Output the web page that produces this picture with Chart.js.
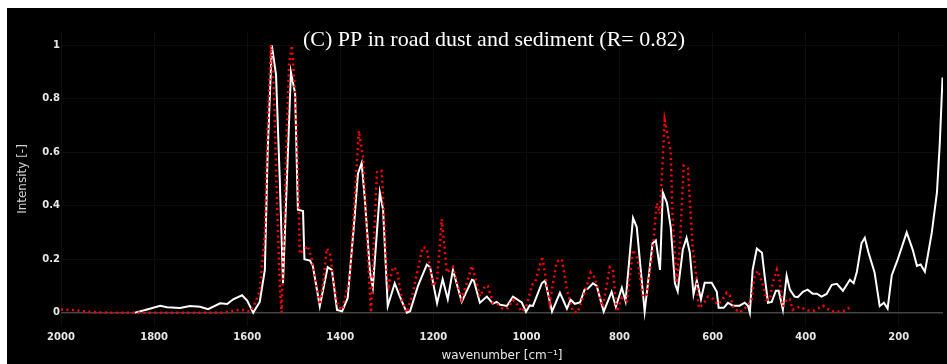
<!DOCTYPE html>
<html>
<head>
<meta charset="utf-8">
<script src="https://cdn.jsdelivr.net/npm/chart.js@4"></script>
<style>
  html, body { margin: 0; padding: 0; background: #fff; }
  #wrap { position: absolute; left: 7px; top: 8px; width: 940px; height: 356px; background: #000; }
</style>
</head>
<body>
<div id="wrap"><canvas id="spectra"></canvas></div>
<script>
// sample spectrum (white, solid)
const sampleX = [1841, 1815, 1787, 1772, 1744, 1723, 1701, 1684, 1658, 1643, 1630, 1611, 1600, 1587, 1573, 1562, 1556, 1547, 1538, 1530,
  1523, 1506, 1497, 1491, 1480, 1477, 1465, 1459, 1444, 1427, 1418, 1407, 1396, 1384, 1369, 1362, 1354, 1347, 1336, 1330,
  1315, 1308, 1298, 1283, 1272, 1257, 1250, 1233, 1214, 1207, 1192, 1180, 1169, 1158, 1139, 1117, 1113, 1100, 1085, 1072,
  1064, 1057, 1042, 1029, 1010, 1001, 993, 986, 967, 960, 945, 928, 913, 905, 896, 885, 875, 868, 857, 849,
  834, 817, 808, 795, 787, 771, 763, 746, 729, 722, 713, 707, 698, 690, 681, 675, 664, 656, 649, 641,
  634, 625, 617, 602, 591, 587, 576, 567, 557, 542, 531, 524, 520, 514, 505, 494, 488, 481, 473, 464,
  458, 449, 441, 434, 424, 417, 406, 396, 385, 376, 366, 355, 344, 333, 320, 305, 297, 290, 280, 273,
  265, 252, 241, 232, 224, 215, 202, 183, 170, 161, 153, 144, 138, 129, 118, 112, 106];
const sampleY = [0, 0.012, 0.026, 0.02, 0.017, 0.025, 0.022, 0.013, 0.035, 0.032, 0.05, 0.065, 0.045, 0, 0.04, 0.16, 0.6, 1.0, 0.89, 0.5,
  0.11, 0.9, 0.82, 0.385, 0.38, 0.2, 0.195, 0.175, 0.024, 0.17, 0.16, 0.01, 0.005, 0.055, 0.36, 0.52, 0.56, 0.42, 0.15, 0.095,
  0.45, 0.385, 0.024, 0.11, 0.06, 0, 0.005, 0.1, 0.18, 0.17, 0.035, 0.125, 0.05, 0.16, 0.04, 0.123, 0.12, 0.037, 0.06, 0.034,
  0.04, 0.03, 0.025, 0.06, 0.038, 0.003, 0.027, 0.025, 0.11, 0.12, 0.004, 0.074, 0.015, 0.048, 0.033, 0.038, 0.086, 0.09, 0.11, 0.1,
  0.004, 0.078, 0.022, 0.093, 0.043, 0.354, 0.32, 0.004, 0.26, 0.27, 0.16, 0.45, 0.41, 0.32, 0.11, 0.08, 0.235, 0.28, 0.225, 0.067,
  0.12, 0.05, 0.112, 0.112, 0.078, 0.018, 0.018, 0.037, 0.026, 0.026, 0.037, 0.026, 0, 0.16, 0.24, 0.224, 0.135, 0.037, 0.04, 0.082,
  0.082, 0.011, 0.138, 0.086, 0.06, 0.058, 0.078, 0.086, 0.071, 0.071, 0.06, 0.07, 0.104, 0.108, 0.082, 0.123, 0.11, 0.153, 0.26, 0.28,
  0.224, 0.15, 0.024, 0.037, 0.015, 0.14, 0.2, 0.3, 0.235, 0.175, 0.18, 0.153, 0.21, 0.3, 0.45, 0.63, 0.88];

// reference spectrum (red, dotted)
const refX = [2000, 1975, 1950, 1925, 1900, 1650, 1635, 1620, 1605, 1595, 1587, 1573, 1562, 1555, 1549, 1543, 1536, 1530, 1526, 1515,
  1510, 1504, 1497, 1491, 1487, 1478, 1470, 1461, 1448, 1444, 1436, 1429, 1422, 1413, 1405, 1396, 1379, 1369, 1360, 1351,
  1343, 1334, 1327, 1321, 1311, 1300, 1296, 1287, 1278, 1268, 1257, 1244, 1223, 1214, 1201, 1192, 1182, 1171, 1158, 1139,
  1117, 1107, 1100, 1089, 1083, 1072, 1061, 1051, 1040, 1029, 1018, 1010, 999, 988, 982, 967, 965, 950, 935, 924,
  913, 900, 890, 875, 862, 853, 836, 821, 814, 806, 795, 784, 771, 761, 750, 741, 730, 720, 713, 703,
  690, 686, 677, 670, 662, 653, 643, 634, 630, 621, 610, 600, 589, 580, 570, 563, 555, 542, 527, 516,
  510, 503, 494, 484, 477, 471, 462, 456, 449, 441, 434, 428, 413, 396, 381, 363, 344, 323, 312, 301];
const refY = [0.012, 0.01, 0.005, 0.001, 0, 0, 0.004, 0.01, 0.01, 0.003, 0.02, 0.08, 0.3, 0.75, 1.0, 0.85, 0.42, 0.1, 0, 0.67,
  0.93, 1.0, 0.82, 0.55, 0.22, 0.235, 0.25, 0.2, 0.07, 0.03, 0.12, 0.24, 0.22, 0.1, 0.024, 0.01, 0.135, 0.43, 0.68, 0.58,
  0.3, 0, 0.3, 0.53, 0.53, 0.15, 0.1, 0.17, 0.16, 0.05, 0, 0.074, 0.245, 0.24, 0.1, 0.12, 0.35, 0.15, 0.17, 0.05,
  0.175, 0.11, 0.06, 0.1, 0.1, 0.037, 0.03, 0.015, 0.017, 0.048, 0.027, 0.004, 0.03, 0.104, 0.11, 0.2, 0.2, 0.037, 0.19, 0.2,
  0.086, 0.004, 0, 0.074, 0.15, 0.13, 0.022, 0.17, 0.16, 0.004, 0.056, 0.045, 0.235, 0.2, 0.06, 0.07, 0.21, 0.41, 0.37, 0.72,
  0.6, 0.36, 0.11, 0.26, 0.55, 0.54, 0.245, 0.12, 0.018, 0.03, 0.06, 0.052, 0.03, 0.045, 0.074, 0.065, 0.018, 0, 0.022, 0.05,
  0.135, 0.157, 0.115, 0.048, 0.05, 0.11, 0.16, 0.12, 0.022, 0.05, 0.05, 0.011, 0.022, 0.008, 0.008, 0.026, 0.004, 0.004, 0.011, 0.026];

const xTicks = [2000, 1800, 1600, 1400, 1200, 1000, 800, 600, 400, 200];
const yTicks = [0, 0.2, 0.4, 0.6, 0.8, 1];

const toPoints = (xs, ys) => xs.map((x, i) => ({ x: x, y: ys[i] }));

// main title sits inside the plot area, so it is drawn by hand
const titlePlugin = {
  id: "plotTitle",
  afterDraw(chart) {
    const ctx = chart.ctx;
    ctx.save();
    ctx.font = '22px "Liberation Serif"';
    ctx.fillStyle = "#fff";
    ctx.textAlign = "center";
    ctx.textBaseline = "middle";
    ctx.fillText("(C) PP in road dust and sediment (R= 0.82)", 487, 32);
    ctx.restore();
  },
};

const tickFont = { family: "DejaVu Sans", size: 10, weight: "bold" };

new Chart(document.getElementById("spectra"), {
  type: "line",
  data: {
    datasets: [
      {
        label: "reference",
        data: toPoints(refX, refY),
        borderColor: "#ff0000",
        borderWidth: 2.5,
        borderDash: [2, 3.5],
        pointRadius: 0,
        tension: 0,
      },
      {
        label: "sample",
        data: toPoints(sampleX, sampleY),
        borderColor: "#ffffff",
        borderWidth: 2,
        pointRadius: 0,
        tension: 0,
      },
    ],
  },
  options: {
    responsive: true,
    maintainAspectRatio: false,
    animation: false,
    layout: { padding: { top: 24, right: 4, left: 0, bottom: 0 } },
    plugins: {
      legend: { display: false },
      tooltip: { enabled: false },
    },
    scales: {
      x: {
        type: "linear",
        reverse: true,
        min: 105,
        max: 2000,
        afterBuildTicks: (axis) => {
          axis.ticks = xTicks.map((v) => ({ value: v }));
        },
        afterFit: (axis) => {
          axis.height = 38;
        },
        ticks: {
          color: "#e6e6e6",
          font: tickFont,
          padding: 5,
          maxRotation: 0,
          callback: (v) => String(v),
        },
        grid: { color: "#0d0d0d", drawTicks: false },
        border: { display: false },
        title: {
          display: true,
          text: "wavenumber [cm⁻¹]",
          color: "#e6e6e6",
          font: { family: "DejaVu Sans", size: 12 },
          padding: { top: 0, bottom: 1 },
        },
      },
      y: {
        min: -0.05,
        max: 1.05,
        afterBuildTicks: (axis) => {
          axis.ticks = yTicks.map((v) => ({ value: v }));
        },
        afterFit: (axis) => {
          axis.width = 54;
        },
        ticks: {
          color: "#e6e6e6",
          font: tickFont,
          padding: 1,
          callback: (v) => String(v),
        },
        grid: {
          color: (c) => (c.tick && c.tick.value === 0 ? "#444444" : "#0d0d0d"),
          lineWidth: (c) => (c.tick && c.tick.value === 0 ? 1.5 : 1),
          drawTicks: false,
        },
        border: { display: false },
        title: {
          display: true,
          text: "Intensity [-]",
          color: "#d0d0d0",
          font: { family: "DejaVu Sans", size: 12 },
          padding: { top: 9, bottom: 0 },
        },
      },
    },
  },
  plugins: [titlePlugin],
});
</script>
</body>
</html>
